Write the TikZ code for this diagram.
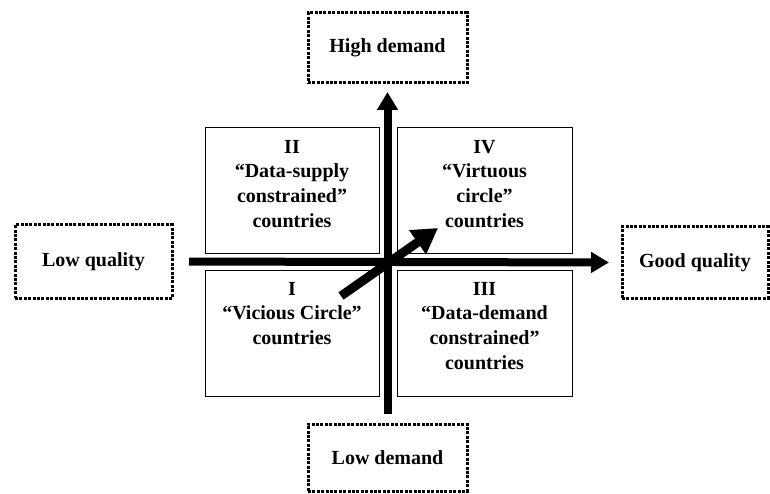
\documentclass[tikz,border=0pt]{standalone}
\usepackage{fontspec}
\setmainfont{Liberation Serif}
\usetikzlibrary{arrows.meta,positioning}

\tikzset{
  dotbox/.style={draw, line width=3pt, dash pattern=on 3pt off 1.4pt,
    minimum width=159pt, minimum height=70pt,
    font=\bfseries\fontsize{20}{24.6}\selectfont},
  quadbox/.style={draw, line width=1pt, minimum width=174pt, minimum height=125pt},
  quadtext/.style={inner sep=0pt, align=center, font=\bfseries\fontsize{20}{24.6}\selectfont},
  axis/.style={line width=8pt, -{Triangle[length=18pt,width=20pt]}},
}

\begin{document}
\begin{tikzpicture}[x=1pt, y=-1pt]
    \useasboundingbox (0,0) rectangle (770,494);

    % Outer labels
    \node[dotbox] (highd) at (387.5,48) {High demand};
    \node[dotbox, minimum width=157pt, minimum height=73pt] (lowq) at (93.5,261.5) {Low quality};
    \node[dotbox, minimum width=146pt, minimum height=71pt] (goodq) at (695,262.5) {Good quality};
    \node[dotbox, minimum height=67pt] (lowd) at (387.5,457.5) {Low demand};

    % Quadrants
    \node[quadbox] (q2) at (292,190.5) {};
    \node[quadbox, minimum width=175pt] (q4) at (484.5,190.5) {};
    \node[quadbox, minimum height=126pt] (q1) at (292,333) {};
    \node[quadbox, minimum width=175pt, minimum height=126pt] (q3) at (484.5,333) {};

    \node[quadtext, below=12.5pt of q2.north] (t2) {II\\“Data-supply\\constrained”\\countries};
    \node[quadtext, below=12.5pt of q4.north] (t4) {IV\\“Virtuous\\circle”\\countries};
    \node[quadtext, below=12.5pt of q1.north] (t1) {I\\“Vicious Circle”\\countries};
    \node[quadtext, below=12.5pt of q3.north] (t3) {III\\“Data-demand\\constrained”\\countries};

    % Axes
    \draw[axis, shorten <=15.5pt, shorten >=11.5pt] (lowq.east) -- (goodq.west);
    \draw[axis, shorten <=8.5pt, shorten >=7.5pt] (lowd.north) -- (highd.south);

    % Path out of the vicious circle
    \coordinate (tail) at (341,296);
    \coordinate (tip) at (438,228);
    \draw[line width=9pt, -{Triangle[length=25pt,width=28pt]}] (tail) -- (tip);

\end{tikzpicture}
\end{document}
